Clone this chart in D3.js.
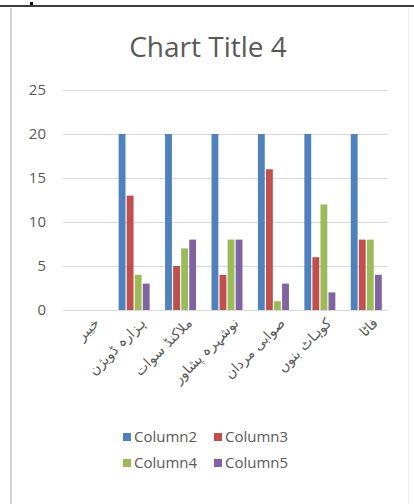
<!DOCTYPE html>
<html>
<head>
<meta charset="utf-8">
<script src="https://cdn.jsdelivr.net/npm/d3@7/dist/d3.min.js"></script>
<style>
  html, body { margin: 0; padding: 0; background: #fff; }
  svg { display: block; }
</style>
</head>
<body>
<svg id="chart" width="414" height="504"></svg>
<script>
// Regions (Urdu) along the category axis
const categories = ["خیبر", "ہزارہ ڈویژن", "ملاکنڈ سوات", "نوشہرہ پشاور", "صوابی مردان", "کوہاٹ بنوں", "فاٹا"];
const seriesNames = ["Column2", "Column3", "Column4", "Column5"];
const column2 = [0, 20, 20, 20, 20, 20, 20];
const column3 = [0, 13, 5, 4, 16, 6, 8];
const column4 = [0, 4, 7, 8, 1, 12, 8];
const column5 = [0, 3, 8, 8, 3, 2, 4];
const yTicks = [0, 5, 10, 15, 20, 25];
const colors = ["#4F81BD", "#C0504D", "#9BBB59", "#8064A2"];
const chartTitle = "Chart Title 4";

const seriesValues = [column2, column3, column4, column5];

const svg = d3.select("#chart");
const textColor = "#595959";
const font = "'Open Sans', 'DejaVu Sans', sans-serif";

// frame decorations
svg.append("rect").attr("x", 0).attr("y", 5).attr("width", 414).attr("height", 2).attr("fill", "#3c3c3c");
svg.append("rect").attr("x", 30).attr("y", 2).attr("width", 3).attr("height", 3).attr("fill", "#111");
svg.append("rect").attr("x", 10).attr("y", 8).attr("width", 2).attr("height", 496).attr("fill", "#d4d4d4");
svg.append("rect").attr("x", 408).attr("y", 8).attr("width", 1).attr("height", 496).attr("fill", "#f1f1f1");

// title
svg.append("text")
  .attr("x", 208).attr("y", 57)
  .attr("text-anchor", "middle")
  .attr("font-family", font)
  .attr("font-size", 28)
  .attr("fill", textColor)
  .text(chartTitle);

const x = d3.scaleBand().domain(categories).range([63, 388]).paddingInner(0).paddingOuter(0);
const y = d3.scaleLinear().domain([0, 25]).range([310, 90]);
const xs = d3.scaleBand().domain(seriesNames).range([-14, 17]).paddingInner(0.15);

// gridlines
svg.append("g").selectAll("line").data(yTicks).join("line")
  .attr("x1", 63).attr("x2", 388)
  .attr("y1", d => Math.round(y(d)) + 0.5).attr("y2", d => Math.round(y(d)) + 0.5)
  .attr("stroke", "#d9d9d9").attr("stroke-width", 1);

// y axis labels
const yAxis = d3.axisLeft(y).tickValues(yTicks).tickSize(0).tickPadding(0);
const gy = svg.append("g").attr("transform", "translate(46,0)").call(yAxis);
gy.select(".domain").remove();
gy.selectAll("text")
  .attr("font-family", font).attr("font-size", 15).attr("fill", textColor);

// bars
const barData = [];
categories.forEach((c, i) => {
  seriesNames.forEach((s, j) => {
    barData.push({ cat: c, series: s, value: seriesValues[j][i], color: colors[j] });
  });
});
svg.append("g").selectAll("rect").data(barData).join("rect")
  .attr("x", d => x(d.cat) + x.bandwidth() / 2 + xs(d.series))
  .attr("width", xs.bandwidth())
  .attr("y", d => y(d.value))
  .attr("height", d => y(0) - y(d.value))
  .attr("fill", d => d.color);

// x axis labels, rotated
const xAxis = d3.axisBottom(x).tickSize(0).tickPadding(0);
const gx = svg.append("g").attr("transform", "translate(0,318)").call(xAxis);
gx.select(".domain").remove();
gx.selectAll("text")
  .attr("font-family", "'DejaVu Sans', 'Noto Sans', sans-serif")
  .attr("font-size", 14)
  .attr("fill", textColor)
  .attr("text-anchor", "end")
  .attr("direction", "ltr")
  .attr("dy", "0.6em")
  .attr("transform", "translate(8,0) rotate(-45)");

// legend
const legendItems = seriesNames.map((s, i) => ({ name: s, color: colors[i], row: Math.floor(i / 2), col: i % 2 }));
const lg = svg.append("g").selectAll("g").data(legendItems).join("g")
  .attr("transform", d => `translate(${123 + d.col * 91},${437 + d.row * 26})`);
lg.append("rect").attr("x", 0).attr("y", -4).attr("width", 8).attr("height", 8).attr("fill", d => d.color);
lg.append("text").attr("x", 11).attr("y", 0).attr("dy", "0.35em")
  .attr("font-family", font).attr("font-size", 15).attr("fill", textColor)
  .text(d => d.name);
</script>
</body>
</html>
